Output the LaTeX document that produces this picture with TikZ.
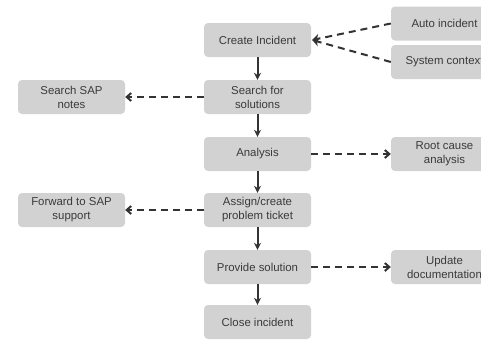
\documentclass[tikz,border=0pt]{standalone}
\usepackage{fontspec}
\setmainfont{Liberation Sans}
\usetikzlibrary{arrows.meta}
\definecolor{boxfill}{HTML}{D3D2D2}
\definecolor{txt}{HTML}{3A3A3A}
\definecolor{ln}{HTML}{333333}
\begin{document}
\begin{tikzpicture}[x=1pt,y=-1pt,
  box/.style={fill=boxfill,rounded corners=4pt,minimum width=107pt,minimum height=34pt,
    inner sep=0pt,align=center,text=txt,font=\fontsize{11.4}{14}\selectfont},
  flow/.style={draw=ln,line width=2pt,-{Stealth[length=7pt,width=7pt]}},
  side/.style={draw=ln,line width=2pt,dash pattern=on 7pt off 5pt,-{Straight Barb[length=4.5pt,width=8pt]}},
  sidein/.style={draw=ln,line width=2pt,dash pattern=on 7pt off 5pt,-{Stealth[length=7pt,width=9pt]}}]
\useasboundingbox (0,0) rectangle (481,340);
\clip (0,0) rectangle (481,340);
\node[box] (create) at (257.5,40) {Create Incident};
\node[box] (search) at (257.5,97) {Search for\\solutions};
\node[box] (analysis) at (257.5,154) {Analysis};
\node[box] (assign) at (257.5,210) {Assign/create\\problem ticket};
\node[box] (provide) at (257.5,267) {Provide solution};
\node[box] (close) at (257.5,322) {Close incident};
\node[box] (notes) at (71.5,97) {Search SAP\\notes};
\node[box] (forward) at (71.5,210) {Forward to SAP\\support};
\node[box] (auto) at (444.5,23.5) {Auto incident};
\node[box] (system) at (444.5,62) {System context};
\node[box] (root) at (444.5,154) {Root cause\\analysis};
\node[box] (update) at (444.5,267) {Update\\documentation};
\draw[flow] (create) -- (search);
\draw[flow] (search) -- (analysis);
\draw[flow] (analysis) -- (assign);
\draw[flow] (assign) -- (provide);
\draw[flow] (provide) -- (close);
\draw[side] (search) -- (notes);
\draw[side] (assign) -- (forward);
\draw[side] (analysis) -- (root);
\draw[side] (provide) -- (update);
\draw[sidein] (auto.west) -- ([xshift=1pt]create.east);
\draw[sidein] (system.west) -- ([xshift=1pt]create.east);
\end{tikzpicture}
\end{document}
